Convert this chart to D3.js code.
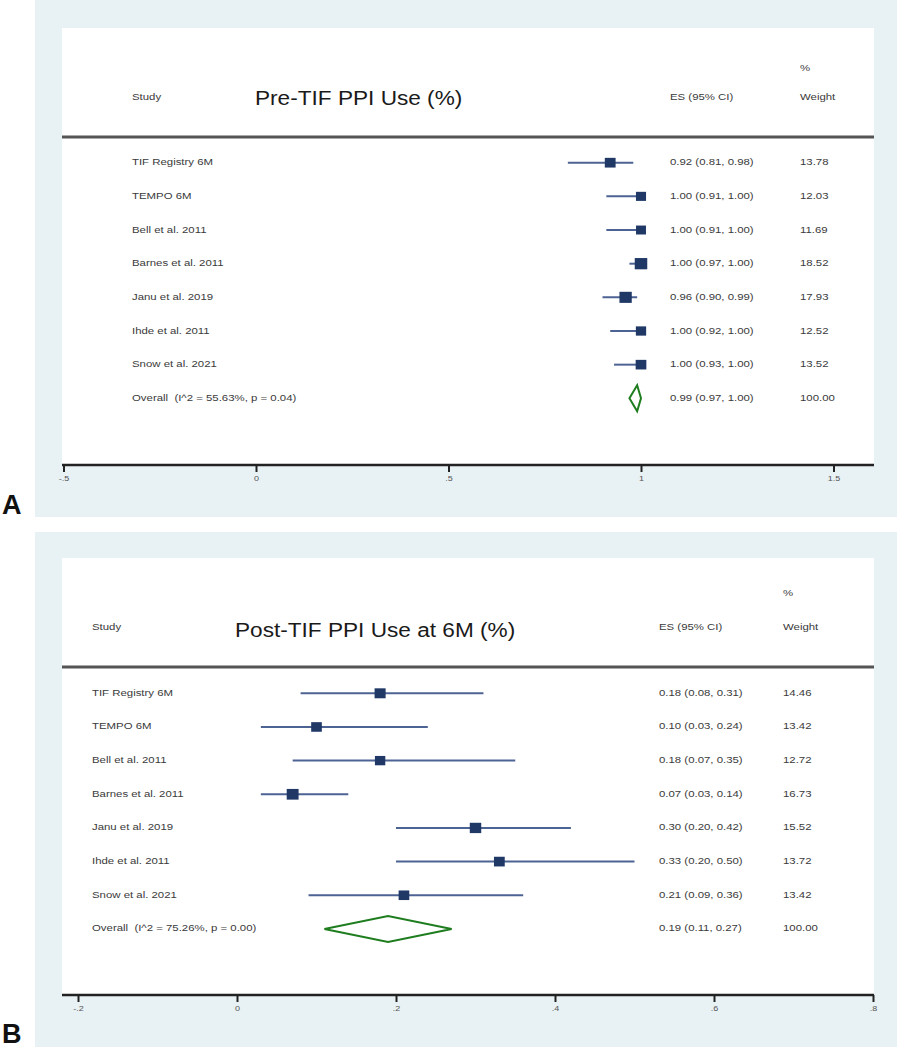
<!DOCTYPE html>
<html>
<head>
<meta charset="utf-8">
<script src="https://cdn.jsdelivr.net/npm/d3@7"></script>
<style>
  html, body { margin: 0; padding: 0; background: #ffffff; }
  svg { display: block; }
  text { font-family: "Liberation Sans", Arial, sans-serif; white-space: pre; }
</style>
</head>
<body>
<svg id="chart" width="897" height="1050"></svg>
<script>
// ---------------- data ----------------
const studies = ["TIF Registry 6M", "TEMPO 6M", "Bell et al. 2011", "Barnes et al. 2011",
                 "Janu et al. 2019", "Ihde et al. 2011", "Snow et al. 2021"];

const preTitle = "Pre-TIF PPI Use (%)";
const preES = [0.92, 1.00, 1.00, 1.00, 0.96, 1.00, 1.00];
const preLo = [0.81, 0.91, 0.91, 0.97, 0.90, 0.92, 0.93];
const preHi = [0.98, 1.00, 1.00, 1.00, 0.99, 1.00, 1.00];
const preWeight = [13.78, 12.03, 11.69, 18.52, 17.93, 12.52, 13.52];
const preOverall = [0.99, 0.97, 1.00];
const preOverallLabel = "Overall\u00a0\u00a0(I^2 = 55.63%, p = 0.04)";
const preTicks = [-0.5, 0, 0.5, 1, 1.5];
const preTickLabels = ["-.5", "0", ".5", "1", "1.5"];

const postTitle = "Post-TIF PPI Use at 6M (%)";
const postES = [0.18, 0.10, 0.18, 0.07, 0.30, 0.33, 0.21];
const postLo = [0.08, 0.03, 0.07, 0.03, 0.20, 0.20, 0.09];
const postHi = [0.31, 0.24, 0.35, 0.14, 0.42, 0.50, 0.36];
const postWeight = [14.46, 13.42, 12.72, 16.73, 15.52, 13.72, 13.42];
const postOverall = [0.19, 0.11, 0.27];
const postOverallLabel = "Overall\u00a0\u00a0(I^2 = 75.26%, p = 0.00)";
const postTicks = [-0.2, 0, 0.2, 0.4, 0.6, 0.8];
const postTickLabels = ["-.2", "0", ".2", ".4", ".6", ".8"];

// ---------------- drawing ----------------
const svg = d3.select("#chart");
const fmt = d3.format(".2f");
const STRETCH = 1.2;

function txt(g, x, y, s, size, opts = {}) {
  return g.append("text")
    .attr("transform", `translate(${x},${y}) scale(${STRETCH},1)`)
    .attr("dominant-baseline", opts.baseline || "middle")
    .attr("font-size", size)
    .attr("font-weight", opts.weight || "normal")
    .attr("fill", opts.fill || "#3a3a3a")
    .text(s);
}

function drawPanel(cfg) {
  const g = svg.append("g");
  // background
  g.append("rect").attr("x", 35).attr("y", cfg.bgY).attr("width", 862).attr("height", cfg.bgH)
    .attr("fill", "#e8f1f4");
  g.append("rect").attr("x", 62).attr("y", cfg.whiteY).attr("width", 812)
    .attr("height", cfg.axisY - cfg.whiteY).attr("fill", "#ffffff");

  const x = d3.scaleLinear().domain(cfg.domain).range(cfg.range);
  const n = cfg.es.length;
  const y = d3.scaleLinear().domain([0, n]).range([cfg.rowTop, cfg.rowTop + n * 33.66]);
  const side = d3.scaleSqrt().domain([0, 20]).range([0, 13]);

  // header
  txt(g, cfg.colW, cfg.pctY, "%", 9.5);
  txt(g, cfg.colStudy, cfg.hdrY, "Study", 9.5);
  txt(g, cfg.colES, cfg.hdrY, "ES (95% CI)", 9.5);
  txt(g, cfg.colW, cfg.hdrY, "Weight", 9.5);
  g.append("text")
    .attr("transform", `translate(${cfg.colTitle},${cfg.titleY}) scale(1.16,1)`)
    .attr("dominant-baseline", "middle")
    .attr("font-size", 19.5).attr("fill", "#1a1a1a").text(cfg.title);

  g.append("line").attr("x1", 62).attr("x2", 874).attr("y1", cfg.sepY).attr("y2", cfg.sepY)
    .attr("stroke", "#555").attr("stroke-width", 3);

  // rows
  const rows = d3.range(n);
  rows.forEach(i => {
    txt(g, cfg.colStudy, y(i), studies[i], 9.5);
    txt(g, cfg.colES, y(i), `${fmt(cfg.es[i])} (${fmt(cfg.lo[i])}, ${fmt(cfg.hi[i])})`, 9.5);
    txt(g, cfg.colW, y(i), fmt(cfg.w[i]), 9.5);
  });
  g.selectAll("line.ci").data(rows).join("line").attr("class", "ci")
    .attr("x1", i => x(cfg.lo[i])).attr("x2", i => x(cfg.hi[i]))
    .attr("y1", i => y(i)).attr("y2", i => y(i))
    .attr("stroke", "#4d6393").attr("stroke-width", 2);
  g.selectAll("rect.box").data(rows).join("rect").attr("class", "box")
    .attr("x", i => x(cfg.es[i]) - side(cfg.w[i]) / 2)
    .attr("y", i => y(i) - side(cfg.w[i]) * 0.45)
    .attr("width", i => side(cfg.w[i]))
    .attr("height", i => side(cfg.w[i]) * 0.9)
    .attr("fill", "#1f3866");

  // overall
  const oy = y(n);
  txt(g, cfg.colStudy, oy, cfg.overallLabel, 9.5);
  txt(g, cfg.colES, oy, `${fmt(cfg.overall[0])} (${fmt(cfg.overall[1])}, ${fmt(cfg.overall[2])})`, 9.5);
  txt(g, cfg.colW, oy, "100.00", 9.5);
  const dh = 13;
  g.append("path")
    .attr("d", d3.line()([
      [x(cfg.overall[1]), oy], [x(cfg.overall[0]), oy - dh],
      [x(cfg.overall[2]), oy], [x(cfg.overall[0]), oy + dh]
    ]) + "Z")
    .attr("fill", "none").attr("stroke", "#1e7d1e").attr("stroke-width", 2)
    .attr("stroke-linejoin", "miter");

  // axis
  g.append("line").attr("x1", 62).attr("x2", 874).attr("y1", cfg.axisY).attr("y2", cfg.axisY)
    .attr("stroke", "#222").attr("stroke-width", 2.5);
  const axis = d3.axisBottom(x).tickValues(cfg.ticks)
    .tickFormat((d, i) => cfg.tickLabels[i]).tickSize(7).tickPadding(4);
  const ag = g.append("g").attr("transform", `translate(0,${cfg.axisY})`).call(axis);
  ag.select(".domain").remove();
  ag.selectAll(".tick line").attr("stroke", "#222").attr("stroke-width", 2);
  ag.selectAll(".tick text").attr("font-size", 7.5).attr("fill", "#555")
    .attr("font-family", "Liberation Sans, Arial, sans-serif")
    .attr("transform", "scale(1.2,1)");

  // panel letter
  g.append("text").attr("x", 2).attr("y", cfg.letterY).attr("font-size", 27)
    .attr("font-weight", "bold").attr("fill", "#111").text(cfg.letter);
}

drawPanel({
  title: preTitle, es: preES, lo: preLo, hi: preHi, w: preWeight,
  overall: preOverall, overallLabel: preOverallLabel,
  ticks: preTicks, tickLabels: preTickLabels,
  domain: [-0.5, 1.5], range: [63.5, 833.5],
  bgY: 0, bgH: 517, whiteY: 28, axisY: 465, sepY: 137,
  pctY: 68, hdrY: 97, titleY: 100, rowTop: 162.7,
  colStudy: 132, colTitle: 255, colES: 670, colW: 800,
  letter: "A", letterY: 514
});

drawPanel({
  title: postTitle, es: postES, lo: postLo, hi: postHi, w: postWeight,
  overall: postOverall, overallLabel: postOverallLabel,
  ticks: postTicks, tickLabels: postTickLabels,
  domain: [-0.2, 0.8], range: [78, 873],
  bgY: 532, bgH: 515, whiteY: 558, axisY: 995, sepY: 667,
  pctY: 593, hdrY: 627, titleY: 632, rowTop: 693.3,
  colStudy: 92, colTitle: 235, colES: 659, colW: 783,
  letter: "B", letterY: 1043
});
</script>
</body>
</html>
